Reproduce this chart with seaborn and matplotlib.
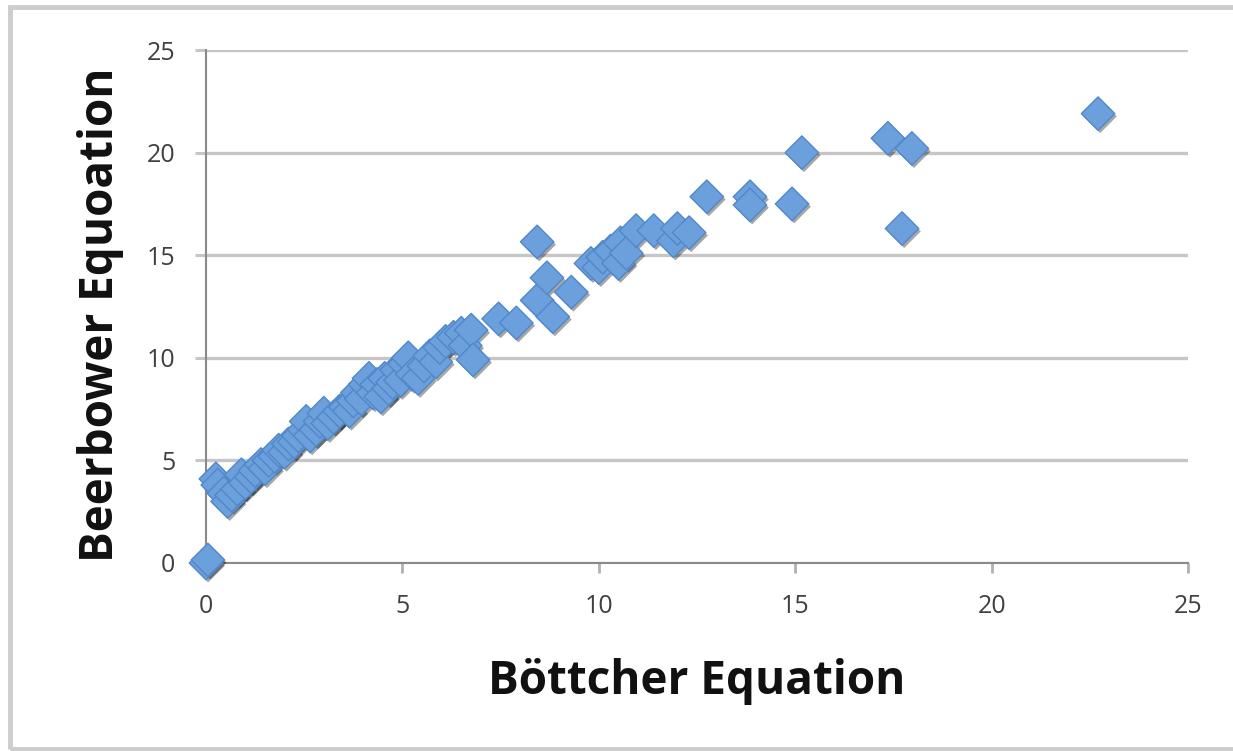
import matplotlib
matplotlib.use("Agg")
import matplotlib.pyplot as plt
import matplotlib.patheffects as pe
from matplotlib.patches import Rectangle
import seaborn as sns
import pandas as pd

# ---- data ----
bottcher = [0.0, 0.05, 0.25, 0.3, 0.45, 0.55, 0.65, 0.8, 0.9, 1.0, 1.15, 1.25, 1.4, 1.5,
            1.6, 1.75, 1.85, 2.0, 2.1, 2.25, 2.35, 2.5, 2.55, 2.65, 2.8, 2.9, 3.0, 3.1,
            3.25, 3.4, 3.55, 3.65, 3.75, 3.85, 3.95, 4.05, 4.15, 4.25, 4.35, 4.45, 4.55,
            4.65, 4.75, 4.85, 4.95, 5.05, 5.15, 5.25, 5.4, 5.55, 5.7, 5.85, 5.95, 6.1,
            6.3, 6.5, 6.6, 6.75, 6.8, 7.45, 7.9,
            8.43, 8.43, 8.68, 8.83, 9.3, 9.8, 10.0, 10.1, 10.3, 10.5, 10.55, 10.7, 10.95,
            11.4, 11.9, 12.0, 12.3, 12.75, 13.85, 13.85, 14.92, 15.17, 17.36, 17.97,
            17.72, 22.71]
beerbower = [0.0, 0.15, 4.1, 3.8, 3.4, 3.0, 3.3, 3.6, 4.3, 3.9, 4.2, 4.5, 4.8, 4.6,
             5.0, 5.2, 5.5, 5.4, 5.8, 5.9, 6.2, 6.5, 6.9, 6.2, 6.5, 6.9, 7.3, 6.8,
             7.1, 7.4, 7.6, 7.4, 7.9, 8.3, 8.0, 8.7, 9.0, 8.3, 8.7, 8.1, 9.0,
             8.5, 8.8, 9.4, 8.9, 9.7, 10.0, 9.2, 9.0, 9.6, 10.1, 9.8, 10.5, 10.8,
             11.0, 11.2, 10.6, 11.35, 9.9, 11.9, 11.7,
             15.65, 12.8, 13.9, 12.0, 13.2, 14.6, 14.4, 14.9, 15.2, 14.6, 15.6, 15.1, 16.2,
             16.2, 15.7, 16.3, 16.1, 17.85, 17.85, 17.45, 17.5, 20.0, 20.7, 20.2,
             16.3, 21.9]
x_ticks = [0, 5, 10, 15, 20, 25]
y_ticks = [0, 5, 10, 15, 20, 25]
x_label = "Böttcher Equation"
y_label = "Beerbower Equoation"

sns.set_theme(style="white")
plt.rcParams['font.family'] = ['Open Sans', 'DejaVu Sans']

df = pd.DataFrame({x_label: bottcher, y_label: beerbower})

W, H = 1233, 751
fig = plt.figure(figsize=(W / 100, H / 100), dpi=100)
ax = fig.add_axes([206 / W, 1 - 563 / H, 982 / W, 513 / H])

sns.scatterplot(data=df, x=x_label, y=y_label, marker='D', s=290,
                color='#6CA0DC', edgecolor='#5088CA', linewidth=1.0,
                ax=ax, zorder=3)
coll = ax.collections[0]
coll.set_clip_on(False)
coll.set_path_effects([
    pe.SimplePatchShadow(offset=(1.5, -2.0), shadow_rgbFace='black', alpha=0.35),
    pe.Normal()])

ax.set_xlim(0, 25)
ax.set_ylim(0, 25)
ax.set_xticks(x_ticks)
ax.set_yticks(y_ticks)
ax.grid(axis='y', color='#C6C6C6', linewidth=2.4, zorder=0)
ax.grid(axis='x', visible=False)
ax.set_axisbelow(True)
for s in ['top', 'right']:
    ax.spines[s].set_visible(False)
for s in ['left', 'bottom']:
    ax.spines[s].set_color('#8A8A8A')
    ax.spines[s].set_linewidth(1.5)
ax.tick_params(axis='y', left=True, length=8, width=2.2, color='#C6C6C6',
               pad=14, labelsize=18, labelcolor='#404040')
ax.tick_params(axis='x', bottom=True, length=7, width=2.0, color='#B0B0B0',
               pad=15, labelsize=18, labelcolor='#404040')

ax.set_xlabel(x_label, fontsize=33, fontweight='bold', color='#111111')
ax.set_ylabel(y_label, fontsize=33, fontweight='bold', color='#111111')
ax.xaxis.set_label_coords(0.5, -0.185)
ax.yaxis.set_label_coords(-0.083, 0.484)

# outer chart frame
fig.patches.append(Rectangle((10 / W, 1 - 749 / H), 1.2, 742 / H,
                             transform=fig.transFigure, fill=False,
                             edgecolor='#CDCDCD', linewidth=3.5))

fig.savefig("out.png", dpi=100)
